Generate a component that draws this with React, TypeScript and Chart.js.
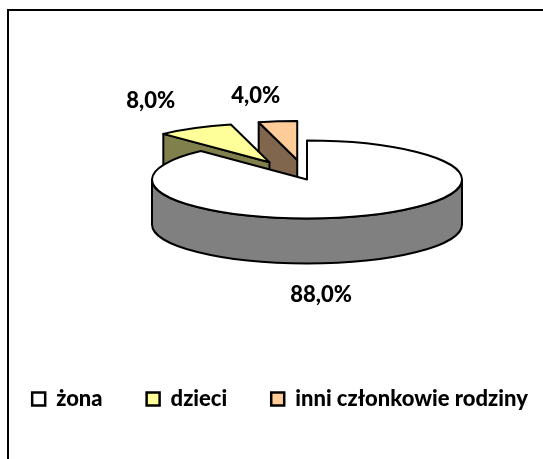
import React, { useEffect, useRef } from "react";
import { Chart, registerables } from "chart.js";

Chart.register(...registerables);

// ---- data ----
const categories = ["żona", "dzieci", "inni członkowie rodziny"];
const shares = [88.0, 8.0, 4.0];
const percentLabels = ["88,0%", "8,0%", "4,0%"];

// ---- styles ----
const topColors = ["#FFFFFF", "#FFFF99", "#FFCC99"];
const explode = [0, 78, 78];
const FONT = "Lato, 'Open Sans', sans-serif";
const WEIGHT = 900;

function shade(hex: string, f: number) {
  const n = parseInt(hex.slice(1), 16);
  const r = Math.round(((n >> 16) & 255) * f);
  const g = Math.round(((n >> 8) & 255) * f);
  const b = Math.round((n & 255) * f);
  return `rgb(${r},${g},${b})`;
}

const pie3d = {
  id: "pie3d",
  beforeDatasetsDraw(chart: any, _args: any, opts: any) {
    const ctx = chart.ctx as CanvasRenderingContext2D;
    const meta = chart.getDatasetMeta(0);
    const k = opts.tilt;
    const depth = opts.depth;
    const slices = meta.data.map((arc: any, i: number) => {
      const p = arc.getProps(["x", "y", "startAngle", "endAngle", "outerRadius"], true);
      const off = arc.options.offset || 0;
      const mid = (p.startAngle + p.endAngle) / 2;
      return {
        i,
        cx: p.x + opts.shiftX + Math.cos(mid) * off,
        cy: p.y + Math.sin(mid) * off * k,
        r: p.outerRadius,
        s: p.startAngle,
        e: p.endAngle,
        mid,
        top: arc.options.backgroundColor as string,
      };
    });
    const order = [...slices].sort((a, b) => a.cy - b.cy);
    ctx.save();
    ctx.lineWidth = opts.lineWidth;
    ctx.strokeStyle = "#000";
    ctx.lineJoin = "round";
    for (const sl of order) {
      const { cx, cy, r, s, e } = sl;
      const ry = r * k;
      const side = shade(sl.top, 0.5);
      const wall = (a: number) => {
        const px = cx + r * Math.cos(a);
        const py = cy + ry * Math.sin(a);
        ctx.beginPath();
        ctx.moveTo(cx, cy);
        ctx.lineTo(px, py);
        ctx.lineTo(px, py + depth);
        ctx.lineTo(cx, cy + depth);
        ctx.closePath();
        ctx.fillStyle = side;
        ctx.fill();
        ctx.stroke();
      };
      if (Math.cos(s) < -1e-6) wall(s);
      if (Math.cos(e) > 1e-6) wall(e);
      for (let n = -1; n <= 2; n++) {
        const a = Math.max(s, 2 * Math.PI * n);
        const b = Math.min(e, 2 * Math.PI * n + Math.PI);
        if (b > a) {
          ctx.beginPath();
          ctx.ellipse(cx, cy, r, ry, 0, a, b);
          ctx.lineTo(cx + r * Math.cos(b), cy + ry * Math.sin(b) + depth);
          ctx.ellipse(cx, cy + depth, r, ry, 0, b, a, true);
          ctx.closePath();
          ctx.fillStyle = side;
          ctx.fill();
          ctx.stroke();
        }
      }
      ctx.beginPath();
      ctx.moveTo(cx, cy);
      ctx.ellipse(cx, cy, r, ry, 0, s, e);
      ctx.closePath();
      ctx.fillStyle = sl.top;
      ctx.fill();
      ctx.stroke();
    }
    // data labels
    ctx.fillStyle = "#000";
    ctx.font = `${WEIGHT} ${opts.labelSize}px ${FONT}`;
    ctx.textAlign = "center";
    ctx.textBaseline = "middle";
    for (const sl of slices) {
      const sn = Math.sin(sl.mid);
      const ax = sl.cx + sl.r * Math.cos(sl.mid);
      const ay = sl.cy + sl.r * k * sn + (sn > 0 ? depth : 0);
      const nd = opts.labelNudge[sl.i];
      ctx.fillText(percentLabels[sl.i], ax + nd[0], ay + nd[1]);
    }
    ctx.restore();
    return false;
  },
};

export default function App() {
  const ref = useRef<HTMLCanvasElement | null>(null);
  useEffect(() => {
    if (!ref.current) return;
    const chart = new Chart(ref.current, {
      type: "pie",
      data: {
        labels: categories,
        datasets: [
          {
            data: shares,
            backgroundColor: topColors,
            borderColor: "#000",
            borderWidth: 2,
            offset: explode,
          },
        ],
      },
      options: {
        animation: false,
        responsive: false,
        devicePixelRatio: 1,
        radius: 155,
        layout: { padding: { top: 15, bottom: 50, left: 0, right: 0 } },
        plugins: {
          tooltip: { enabled: false },
          legend: {
            position: "bottom",
            labels: {
              color: "#000",
              font: { family: FONT, size: 22, weight: WEIGHT },
              boxWidth: 13,
              boxHeight: 13,
              padding: 44,
              generateLabels: () =>
                categories.map((t, i) => ({
                  text: t,
                  fillStyle: topColors[i],
                  strokeStyle: "#000",
                  lineWidth: 2.5,
                  hidden: false,
                  index: i,
                  fontColor: "#000",
                })),
            },
          },
          pie3d: {
            tilt: 39 / 155,
            depth: 45,
            shiftX: 27,
            lineWidth: 2,
            labelSize: 22,
            labelNudge: [
              [-43, 34],
              [-44, -27],
              [-22, -25],
            ],
          },
        } as any,
      } as any,
      plugins: [pie3d as any],
    });
    return () => chart.destroy();
  }, []);
  return (
    <div
      style={{
        position: "fixed",
        left: 0,
        top: 0,
        width: 543,
        height: 459,
        overflow: "hidden",
        background: "#fff",
      }}
    >
      <div
        style={{
          position: "absolute",
          left: 7,
          top: 9,
          width: 600,
          height: 600,
          border: "2px solid #000",
        }}
      />
      <canvas
        ref={ref}
        width={600}
        height={470}
        style={{ position: "absolute", left: -20, top: 0, width: 600, height: 470 }}
      />
    </div>
  );
}
